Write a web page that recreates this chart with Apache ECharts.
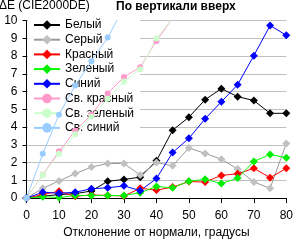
<!DOCTYPE html>
<html>
<head>
<meta charset="utf-8">
<script src="https://cdn.jsdelivr.net/npm/echarts@6/dist/echarts.min.js"></script>
<style>
  html, body { margin: 0; padding: 0; background: #fff; }
  #chart { width: 296px; height: 244px; }
</style>
</head>
<body>
<div id="chart"></div>
<script>
// углы отклонения, градусы
const angles = [0, 5, 10, 15, 20, 25, 30, 35, 40, 45, 50, 55, 60, 65, 70, 75, 80];

const white = [0, 0.1, 0.2, 0.25, 0.4, 0.95, 1.05, 1.18, 2.1, 3.83, 4.56, 5.55, 6.17, 5.72, 5.5, 4.78, 4.78];
const gray = [0, 0.55, 0.97, 1.38, 1.75, 1.95, 1.95, 1.3, 2.0, 1.82, 2.83, 2.52, 2.19, 1.64, 0.91, 0.55, 3.08];
const red = [0, 0.2, 0.38, 0.1, 0.18, 0.15, 0.12, 0.55, 0.45, 0.62, 0.93, 0.91, 1.28, 1.37, 1.68, 1.15, 1.68];
const green = [0, 0.08, 0.03, 0.15, 0.15, 0.14, 0.15, 0.3, 0.65, 0.58, 0.95, 1.06, 0.82, 1.13, 2.07, 2.46, 2.28];
const blue = [0, 0.33, 0.27, 0.33, 0.53, 0.58, 0.69, 0.42, 1.1, 2.57, 3.37, 4.47, 5.43, 6.39, 8.03, 9.73, 9.18];
// светлые цвета уходят за верх шкалы
const lightRed = [0, 1.31, 2.64, 3.8, 4.7, 5.9, 6.83, 7.38, 8.85, 10.15, 11.5];
const lightGreen = [0, 1.3, 2.5, 3.6, 4.58, 5.6, 6.57, 7.26, 9.0, 10.15, 11.5];
const lightBlue = [0, 2.5, 4.7, 6.35, 7.72, 9.05, 10.75];

const yTicks = [0, 1, 2, 3, 4, 5, 6, 7, 8, 9, 10];
const xTicks = [0, 10, 20, 30, 40, 50, 60, 70, 80];

const FONT = '"Liberation Sans", Arial, sans-serif';

function pairs(vals) {
  return vals.map((v, i) => [angles[i], v]);
}

function makeSeries(name, vals, lineColor, markColor, symbol, size) {
  return {
    name: name,
    type: 'line',
    data: pairs(vals),
    symbol: symbol,
    symbolSize: size,
    clip: true,
    z: 3,
    lineStyle: { color: lineColor, width: 1 },
    itemStyle: { color: markColor },
    emphasis: { disabled: true }
  };
}

const chart = echarts.init(document.getElementById('chart'), null, { renderer: 'canvas' });

chart.setOption({
  animation: false,
  backgroundColor: '#fff',
  textStyle: { fontFamily: FONT },
  title: [
    {
      text: 'ΔE (CIE2000DE)',
      left: -1, top: 0, padding: 0,
      textStyle: { fontSize: 12, fontWeight: 'normal', color: '#000', fontFamily: FONT }
    },
    {
      text: 'По вертикали вверх',
      left: 116, top: 1, padding: 0,
      textStyle: { fontSize: 12, fontWeight: 'bold', color: '#000', fontFamily: FONT }
    }
  ],
  legend: {
    orient: 'vertical',
    left: 28,
    top: 15,
    padding: [4, 6, 4, 5],
    itemWidth: 26,
    itemHeight: 12,
    itemGap: 2.7,
    backgroundColor: '#fff',
    z: 1,
    textStyle: { fontSize: 12, color: '#000', fontFamily: FONT },
    data: ['Белый', 'Серый', 'Красный', 'Зеленый', 'Синий', 'Св. красный', 'Св. зеленый', 'Св. синий']
  },
  grid: { left: 26.5, right: 7, top: 20.7, bottom: 40.7, containLabel: false },
  xAxis: {
    type: 'value',
    min: 0,
    max: 80,
    interval: 10,
    name: 'Отклонение от нормали, градусы',
    nameLocation: 'middle',
    nameGap: 27,
    nameTextStyle: { fontSize: 12, color: '#000', fontFamily: FONT },
    axisLine: { lineStyle: { color: '#000', width: 1 } },
    axisTick: { show: true, length: 5, lineStyle: { color: '#000' } },
    axisLabel: {
      color: '#000', fontSize: 12, margin: 12, fontFamily: FONT,
      formatter: v => (xTicks.indexOf(v) >= 0 ? String(v) : '')
    },
    splitLine: { show: false }
  },
  yAxis: {
    type: 'value',
    min: 0,
    max: 10,
    interval: 1,
    axisLine: { show: true, lineStyle: { color: '#000', width: 1 } },
    axisTick: { show: true, length: 4, lineStyle: { color: '#000' } },
    axisLabel: {
      color: '#000', fontSize: 12, margin: 9, fontFamily: FONT,
      formatter: v => (yTicks.indexOf(v) >= 0 ? String(v) : '')
    },
    splitLine: { show: true, lineStyle: { color: '#c0c0c0', width: 1 } }
  },
  series: [
    makeSeries('Белый', white, '#000000', '#000000', 'diamond', 8),
    makeSeries('Серый', gray, '#999999', '#c0c0c0', 'diamond', 8),
    makeSeries('Красный', red, '#ff0000', '#ff0000', 'diamond', 8),
    makeSeries('Зеленый', green, '#00ff00', '#00ee00', 'diamond', 8),
    makeSeries('Синий', blue, '#0000ff', '#0000ff', 'diamond', 8),
    makeSeries('Св. красный', lightRed, '#ff99cc', '#ff99cc', 'circle', 6),
    makeSeries('Св. зеленый', lightGreen, '#ccffcc', '#ccffcc', 'circle', 6),
    makeSeries('Св. синий', lightBlue, '#99ccff', '#99ccff', 'circle', 6)
  ]
});
</script>
</body>
</html>
